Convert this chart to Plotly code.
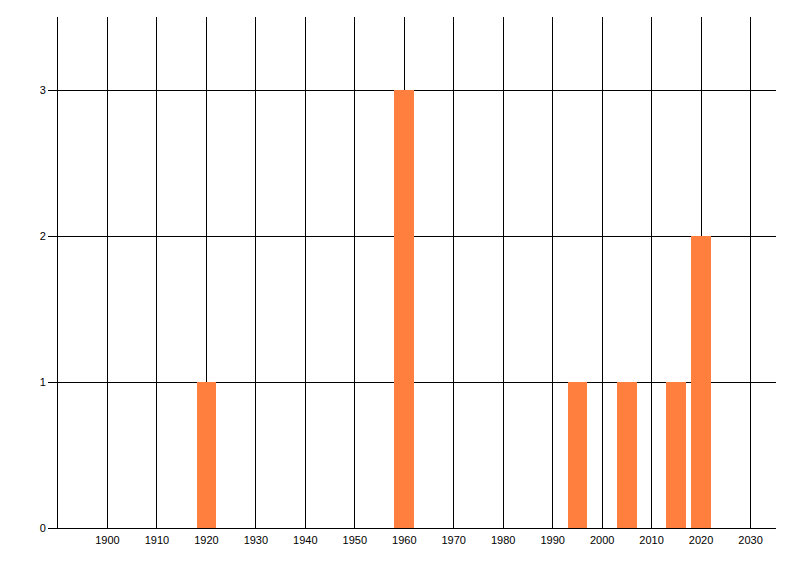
import plotly.graph_objects as go

years = [1920, 1960, 1995, 2005, 2015, 2020]
counts = [1, 3, 1, 1, 1, 2]
x_ticks = list(range(1900, 2031, 10))
y_ticks = [0, 1, 2, 3]

fig = go.Figure(go.Bar(x=years, y=counts, width=4, marker=dict(color="#FF7F3F", line=dict(width=0))))

fig.update_layout(
    width=800, height=576,
    margin=dict(l=50, r=32, t=9, b=56),
    paper_bgcolor="white", plot_bgcolor="white",
    font=dict(family="Liberation Sans", size=11, color="black"),
    showlegend=False,
    bargap=0,
)
fig.update_xaxes(
    range=[1890, 2035.15], tickvals=x_ticks, ticktext=[str(v) for v in x_ticks],
    showgrid=True, gridcolor="black", gridwidth=1,
    showline=True, linecolor="black", linewidth=1,
    ticks="", zeroline=False, ticklabelstandoff=2,
)
fig.update_yaxes(
    range=[0, 3.5], tickvals=y_ticks, ticktext=[str(v) for v in y_ticks],
    showgrid=True, gridcolor="black", gridwidth=1,
    showline=True, linecolor="black", linewidth=1,
    ticks="outside", ticklen=9, tickcolor="black", zeroline=False,
)

fig.write_html("out.html")
